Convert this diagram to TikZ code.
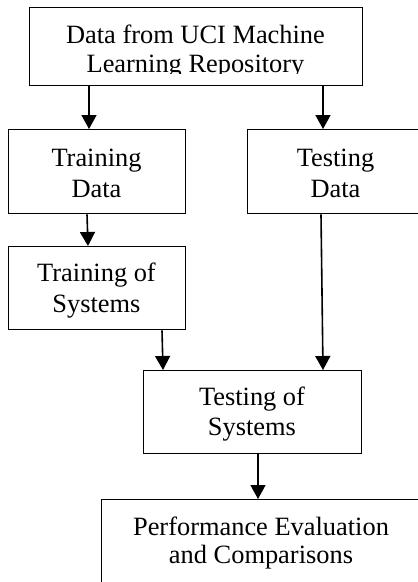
\documentclass[tikz,border=0pt]{standalone}
\usepackage{fontspec}
\setmainfont{Liberation Serif}
\usetikzlibrary{arrows.meta,calc}
\begin{document}
\begin{tikzpicture}[x=1pt,y=1pt,
 box/.style={draw, line width=1.3pt, inner sep=0pt, anchor=north west},
 lbl/.style={align=center, font=\fontsize{26.4}{30}\selectfont, inner sep=0pt, anchor=base},
 arr/.style={line width=1.6pt, -{Triangle[length=14pt,width=15pt]}}]
\useasboundingbox (0,0) rectangle (418,-582);
\node[box, minimum width=333, minimum height=78] (b1) at (29,-7) {};
\node[box, minimum width=177, minimum height=84] (b2) at (8,-129) {};
\node[box, minimum width=177, minimum height=84] (b3) at (247,-129) {};
\node[box, minimum width=177, minimum height=83] (b4) at (8,-246) {};
\node[box, minimum width=218, minimum height=83] (b5) at (143,-370) {};
\node[box, minimum width=320, minimum height=95] (b6) at (101,-499) {};
\begin{scope}
\clip (0,0) rectangle (418,-73.5);
\node[lbl, font=\fontsize{26.4}{29}\selectfont] (t1) at (195.5,-72) {Data from UCI Machine\\Learning Repository};
\end{scope}
\node[lbl, font=\fontsize{26.4}{31}\selectfont] (t2) at (96.5,-197) {Training\\Data};
\node[lbl, font=\fontsize{26.4}{31}\selectfont] (t3) at (335.5,-197) {Testing\\Data};
\node[lbl, font=\fontsize{26.4}{31}\selectfont] (t4) at (96.5,-312) {Training of\\Systems};
\node[lbl] (t5) at (252,-435) {Testing of\\Systems};
\node[lbl, font=\fontsize{26.4}{28}\selectfont] (t6) at (261,-563) {Performance Evaluation\\and Comparisons};
\coordinate (a1s) at ($(b1.south west)+(60,0)$);
\coordinate (a1e) at ($(b2.north west)+(81,0)$);
\coordinate (a2s) at ($(b1.south west)+(294,0)$);
\coordinate (a2e) at ($(b3.north west)+(76,0)$);
\coordinate (a3s) at ($(b2.south west)+(79,0)$);
\coordinate (a3e) at ($(b4.north west)+(80,0)$);
\coordinate (a4s) at ($(b4.south west)+(154,0)$);
\coordinate (a4e) at ($(b5.north west)+(20,0)$);
\coordinate (a5s) at ($(b3.south west)+(74,0)$);
\coordinate (a5e) at ($(b5.north west)+(180,0)$);
\coordinate (a6s) at ($(b5.south west)+(115,0)$);
\coordinate (a6e) at ($(b6.north west)+(157,0)$);
\draw[arr] (a1s) -- (a1e);
\draw[arr] (a2s) -- (a2e);
\draw[arr] (a3s) -- (a3e);
\draw[arr] (a4s) -- (a4e);
\draw[arr] (a5s) -- (a5e);
\draw[arr] (a6s) -- (a6e);
\end{tikzpicture}
\end{document}
